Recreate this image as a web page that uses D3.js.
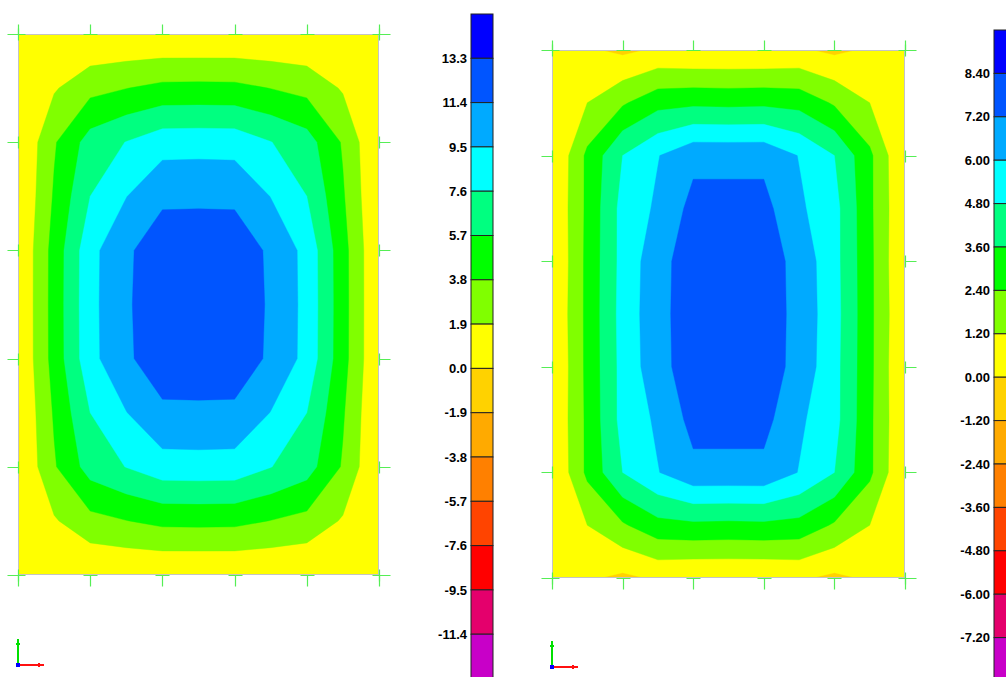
<!DOCTYPE html>
<html>
<head>
<meta charset="utf-8">
<script src="https://cdn.jsdelivr.net/npm/d3@7"></script>
<style>
  html, body { margin:0; padding:0; background:#fff; }
  svg { display:block; }
  .lbl { font-family: "Liberation Sans", Arial, sans-serif; font-size:13px; font-weight:bold; fill:#000; }
</style>
</head>
<body>
<svg id="chart" width="1006" height="677"></svg>
<script>
// band colours, legend top -> bottom (above highest level ... below lowest level)
const bandColors = ['#0000ff','#0055ff','#00aaff','#00ffff','#00ff80','#00ff00','#80ff00','#ffff00',
                    '#ffd200','#ffaa00','#ff8000','#ff4400','#ff0000','#e4006c','#c800c8'];

// left plot: contour levels (legend labels) and nodal values, 11 x 11 grid (rows top -> bottom)
const leftLevels = [13.3, 11.4, 9.5, 7.6, 5.7, 3.8, 1.9, 0.0, -1.9, -3.8, -5.7, -7.6, -9.5, -11.4];
const leftLabels = ['13.3','11.4','9.5','7.6','5.7','3.8','1.9','0.0','-1.9','-3.8','-5.7','-7.6','-9.5','-11.4'];
const leftGrid = [
  [0, 0, 0, 0, 0, 0, 0, 0, 0, 0, 0],
  [0, 1.7, 3.2, 3.76, 4.27, 4.3, 4.27, 3.76, 3.2, 1.7, 0],
  [-0.15, 3.6, 6.5, 7.65, 8.7, 8.75, 8.7, 7.65, 6.5, 3.6, -0.15],
  [-0.15, 4.0, 7.6, 9.45, 11.1, 11.13, 11.1, 9.45, 7.6, 4.0, -0.15],
  [0, 4.5, 8.9, 11.15, 12.3, 12.3, 12.3, 11.15, 8.9, 4.5, 0],
  [0, 4.53, 8.95, 11.16, 12.6, 12.7, 12.6, 11.16, 8.95, 4.53, 0],
  [0, 4.5, 8.9, 11.15, 12.3, 12.3, 12.3, 11.15, 8.9, 4.5, 0],
  [-0.15, 4.0, 7.6, 9.45, 11.1, 11.13, 11.1, 9.45, 7.6, 4.0, -0.15],
  [-0.15, 3.6, 6.5, 7.65, 8.7, 8.75, 8.7, 7.65, 6.5, 3.6, -0.15],
  [0, 1.7, 3.2, 3.76, 4.27, 4.3, 4.27, 3.76, 3.2, 1.7, 0],
  [0, 0, 0, 0, 0, 0, 0, 0, 0, 0, 0]
];

// right plot
const rightLevels = [8.4, 7.2, 6.0, 4.8, 3.6, 2.4, 1.2, 0.0, -1.2, -2.4, -3.6, -4.8, -6.0, -7.2];
const rightLabels = ['8.40','7.20','6.00','4.80','3.60','2.40','1.20','0.00','-1.20','-2.40','-3.60','-4.80','-6.00','-7.20'];
const rightGrid = [
  [0, 0.15, -0.25, 0.15, 0, 0, 0, 0.15, -0.25, 0.15, 0],
  [0, 1.2, 2.25, 3.2, 3.35, 3.3, 3.35, 3.2, 2.25, 1.2, 0],
  [-0.1, 2.65, 4.8, 5.95, 6.9, 6.9, 6.9, 5.95, 4.8, 2.65, -0.1],
  [0, 2.65, 5.2, 6.2, 7.57, 7.57, 7.57, 6.2, 5.2, 2.65, 0],
  [-0.1, 2.7, 5.2, 6.75, 7.9, 8.0, 7.9, 6.75, 5.2, 2.7, -0.1],
  [0, 2.7, 5.26, 6.79, 7.92, 8.1, 7.92, 6.79, 5.26, 2.7, 0],
  [-0.1, 2.7, 5.2, 6.75, 7.9, 8.0, 7.9, 6.75, 5.2, 2.7, -0.1],
  [0, 2.65, 5.2, 6.2, 7.57, 7.57, 7.57, 6.2, 5.2, 2.65, 0],
  [-0.1, 2.65, 4.8, 5.95, 6.9, 6.9, 6.9, 5.95, 4.8, 2.65, -0.1],
  [0, 1.2, 2.25, 3.2, 3.35, 3.3, 3.35, 3.2, 2.25, 1.2, 0],
  [0, 0.15, -0.25, 0.15, 0, 0, 0, 0.15, -0.25, 0.15, 0]
];

const svg = d3.select('#chart');
const tickColor = '#55ee55';

function drawPanel(id, cfg, grid, levels, labels){
  const g = svg.append('g');
  const ny = grid.length, nx = grid[0].length;
  const values = grid.flat();

  // grid node k sits at contour coord k+0.5
  const sx = d3.scaleLinear().domain([0.5, nx - 0.5]).range([cfg.x0, cfg.x1]);
  const sy = d3.scaleLinear().domain([0.5, ny - 0.5]).range([cfg.y0, cfg.y1]);
  const path = d3.geoPath(d3.geoTransform({
    point(x, y){ this.stream.point(sx(x), sy(y)); }
  }));

  svg.append('defs').append('clipPath').attr('id', 'clip' + id)
    .append('rect')
    .attr('x', cfg.x0).attr('y', cfg.y0)
    .attr('width', cfg.x1 - cfg.x0).attr('height', cfg.y1 - cfg.y0);

  const plate = g.append('g').attr('clip-path', `url(#clip${id})`);
  plate.append('rect')
    .attr('x', cfg.x0).attr('y', cfg.y0)
    .attr('width', cfg.x1 - cfg.x0).attr('height', cfg.y1 - cfg.y0)
    .attr('fill', bandColors[bandColors.length - 1]);

  const asc = levels.slice().reverse();
  const contours = d3.contours().size([nx, ny]).thresholds(asc)(values);
  plate.selectAll('path')
    .data(contours)
    .join('path')
    .attr('d', path)
    .attr('fill', d => bandColors[levels.indexOf(d.value)])
    .attr('stroke', d => bandColors[levels.indexOf(d.value)])
    .attr('stroke-width', 0.4);

  // plate outline
  g.append('rect')
    .attr('x', cfg.x0 + 0.5).attr('y', cfg.y0 + 0.5)
    .attr('width', cfg.x1 - cfg.x0 - 1).attr('height', cfg.y1 - cfg.y0 - 1)
    .attr('fill', 'none').attr('stroke', '#c4c4c4').attr('stroke-width', 1);

  // tick marks round the plate (5 divisions each way)
  const tx = d3.scaleLinear().domain([0, 5]).range([cfg.x0, cfg.x1]);
  const ty = d3.scaleLinear().domain([0, 5]).range([cfg.y0, cfg.y1]);
  const tk = g.append('g').attr('stroke', tickColor).attr('stroke-width', 1.2).attr('fill', 'none');
  d3.range(6).forEach(i => {
    const x = Math.round(tx(i)) + 0.5, y = Math.round(ty(i)) + 0.5;
    const top = Math.round(cfg.y0) + 0.5, bot = Math.round(cfg.y1) + 0.5;
    const lft = Math.round(cfg.x0) + 0.5, rgt = Math.round(cfg.x1) + 0.5;
    tk.append('path').attr('d', `M${x},${top - 10}V${top}M${x - 7},${top}H${x + 7}`);
    tk.append('path').attr('d', `M${x},${bot + 11}V${bot}M${x - 7},${bot}H${x + 7}`);
    tk.append('path').attr('d', `M${lft - 11},${y}H${lft}M${lft},${y - 6}V${y + 6}`);
    tk.append('path').attr('d', `M${rgt + 11},${y}H${rgt}M${rgt},${y - 6}V${y + 6}`);
  });

  // legend
  const ly = d3.scaleLinear().domain([0, bandColors.length]).range([cfg.legTop, cfg.legTop + bandColors.length * cfg.legSeg]);
  const leg = g.append('g');
  leg.selectAll('rect')
    .data(bandColors)
    .join('rect')
    .attr('x', cfg.legX).attr('y', (d, i) => ly(i))
    .attr('width', cfg.legW).attr('height', cfg.legSeg)
    .attr('fill', d => d)
    .attr('stroke', '#222').attr('stroke-width', 1);
  leg.selectAll('text')
    .data(labels)
    .join('text')
    .attr('class', 'lbl')
    .attr('x', cfg.legX - 4)
    .attr('y', (d, i) => ly(i + 1))
    .attr('dy', '0.36em')
    .attr('text-anchor', 'end')
    .text(d => d);

  // axis triad
  const o = cfg.triad;
  const tr = g.append('g').attr('stroke-width', 2);
  tr.append('line').attr('x1', o.x).attr('y1', o.y).attr('x2', o.x).attr('y2', o.y - 26).attr('stroke', '#00e000');
  tr.append('line').attr('x1', o.x - 2).attr('y1', o.y - 21).attr('x2', o.x + 2).attr('y2', o.y - 21).attr('stroke', '#00e000');
  tr.append('line').attr('x1', o.x).attr('y1', o.y).attr('x2', o.x + 26).attr('y2', o.y).attr('stroke', '#ff1010');
  tr.append('line').attr('x1', o.x + 21).attr('y1', o.y - 2).attr('x2', o.x + 21).attr('y2', o.y + 2).attr('stroke', '#ff1010');
  tr.append('rect').attr('x', o.x - 2).attr('y', o.y - 2).attr('width', 4).attr('height', 4).attr('fill', '#0000ff').attr('stroke', 'none');
}

drawPanel('L', {
  x0: 18, x1: 379, y0: 34, y1: 575,
  legX: 471, legW: 22, legTop: 14, legSeg: 44.3,
  triad: {x: 18, y: 665}
}, leftGrid, leftLevels, leftLabels);

drawPanel('R', {
  x0: 552, x1: 905, y0: 50, y1: 578,
  legX: 994, legW: 22, legTop: 30, legSeg: 43.4,
  triad: {x: 552, y: 667}
}, rightGrid, rightLevels, rightLabels);
</script>
</body>
</html>
